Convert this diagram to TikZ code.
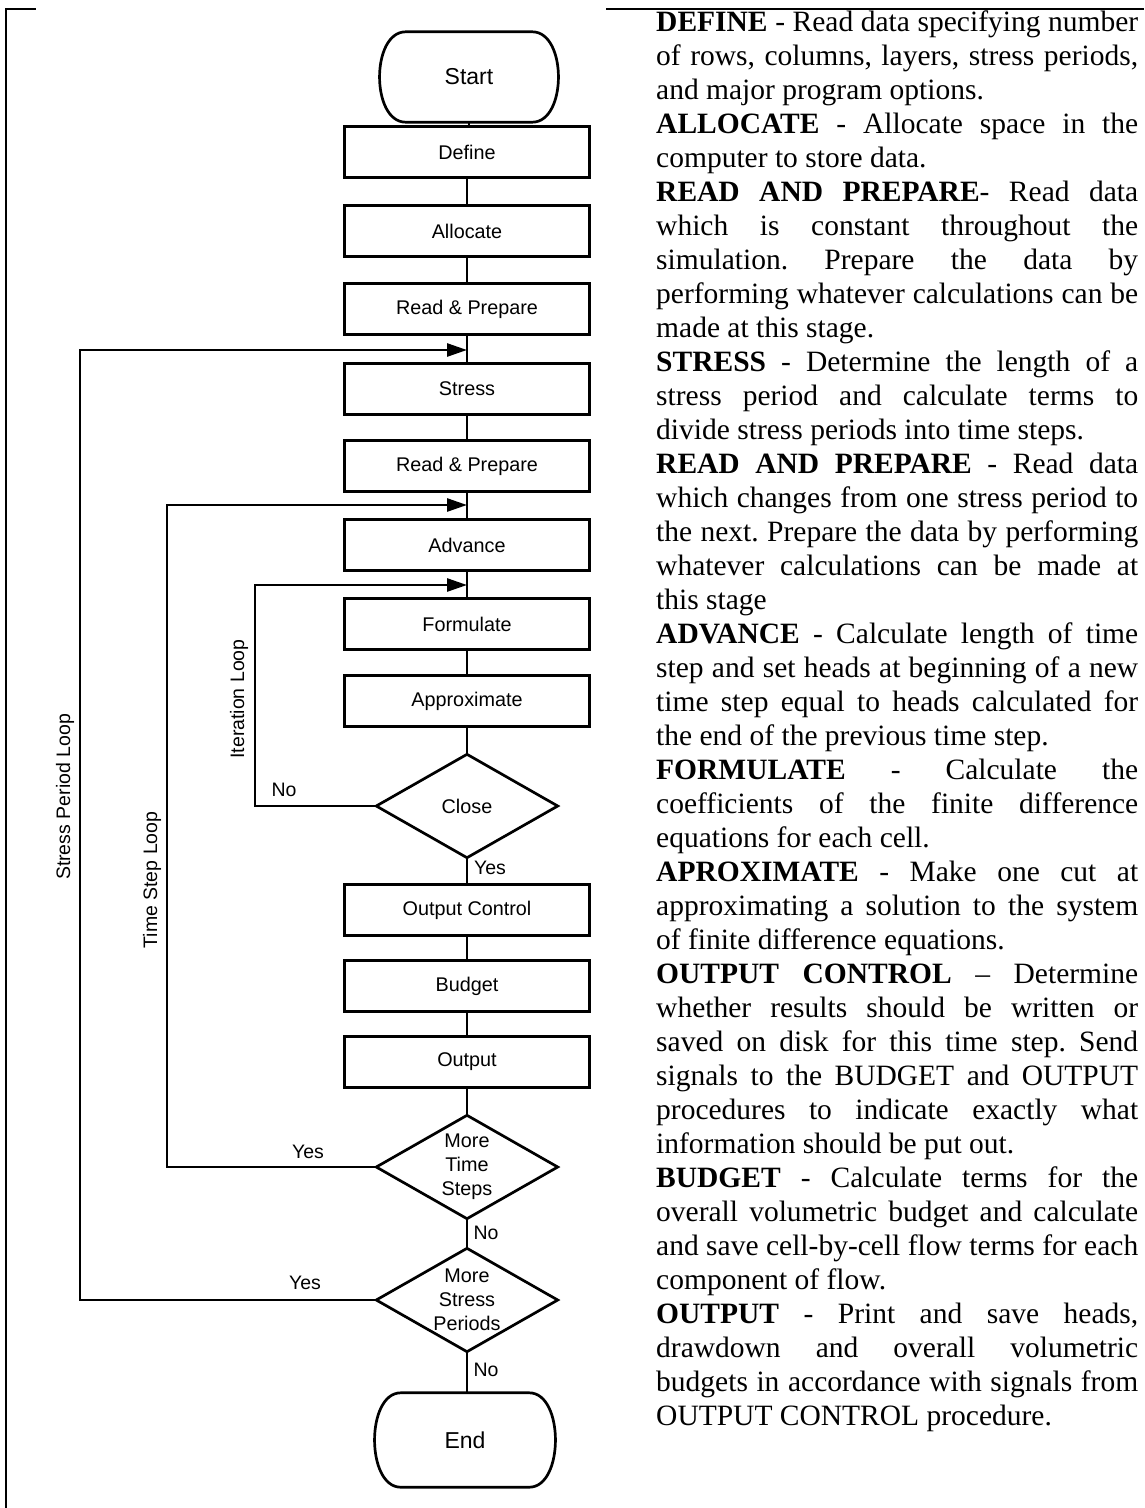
\documentclass[tikz,border=0pt]{standalone}
\usepackage{fontspec}
\setmainfont{Liberation Serif}
\newfontfamily\flowfont{Liberation Sans}
\usetikzlibrary{arrows.meta}
\begin{document}
\begin{tikzpicture}[x=1pt,y=-1pt,
  ln/.style={line width=2.7pt},
  box/.style={draw, line width=2.5pt, minimum width=245pt, minimum height=51pt, inner sep=0pt, font=\flowfont\fontsize{19.8}{22}\selectfont},
  term/.style={minimum width=178pt, minimum height=90pt, inner sep=0pt, font=\flowfont\fontsize{23}{26}\selectfont},
  dia/.style={minimum width=181pt, minimum height=103pt, inner sep=0pt, align=center, font=\flowfont\fontsize{19.8}{24}\selectfont},
  lbl/.style={font=\flowfont\fontsize{19.5}{22}\selectfont, inner sep=0pt},
  looplbl/.style={font=\flowfont\fontsize{19.5}{22}\selectfont, inner sep=0pt, rotate=90},
  tip/.style={-{Triangle[length=20pt,width=13pt]}}
]
\useasboundingbox (0,0) rectangle (1144,1508);
% page border
\draw[line width=2pt] (5.5,1508) -- (5.5,9) -- (36,9);
\draw[line width=2pt] (606,9) -- (1144,9);

% flowchart nodes
\node[term] (start) at (469,77) {Start};
\node[box] (define) at (467,152) {Define};
\node[box] (allocate) at (467,231) {Allocate};
\node[box] (rp1) at (467,309) {Read \& Prepare};
\node[box] (stress) at (467,389) {Stress};
\node[box] (rp2) at (467,466) {Read \& Prepare};
\node[box] (advance) at (467,545) {Advance};
\node[box] (formulate) at (467,624) {Formulate};
\node[box] (approx) at (467,701) {Approximate};
\node[dia] (close) at (467,806) {Close};
\node[box] (outctl) at (467,910) {Output Control};
\node[box] (budget) at (467,986) {Budget};
\node[box] (output) at (467,1062) {Output};
\node[dia] (mts) at (467,1167) {More\\Time\\Steps};
\node[dia] (msp) at (467,1300) {More\\Stress\\Periods};
\node[term, minimum height=94pt, minimum width=180pt] (stop) at (465,1440) {End};

% terminal outlines
\foreach \n in {start,stop}
  \draw[ln] ([xshift=26pt]\n.north west) -- ([xshift=-26pt]\n.north east)
    .. controls ([xshift=9pt]\n.north east) and ([xshift=9pt]\n.south east) .. ([xshift=-26pt]\n.south east)
    -- ([xshift=26pt]\n.south west)
    .. controls ([xshift=-9pt]\n.south west) and ([xshift=-9pt]\n.north west) .. cycle;
% diamond outlines
\foreach \n in {close,mts,msp}
  \draw[ln, line join=miter] (\n.north) -- (\n.east) -- (\n.south) -- (\n.west) -- cycle;

% main flow
\draw[ln] (start.south |- define.north) -- (start.south);
\foreach \a/\b in {define/allocate, allocate/rp1, rp1/stress, stress/rp2, rp2/advance, advance/formulate, formulate/approx, approx/close, close/outctl, outctl/budget, budget/output, output/mts, mts/msp}
  \draw[ln] (\a) -- (\b);
\draw[ln] (msp.south) -- (msp.south |- stop.north);

% loops
\coordinate (sA) at (80,1300); \coordinate (sB) at (80,350); \coordinate (sE) at (467,350);
\coordinate (tA) at (167,1167); \coordinate (tB) at (167,505); \coordinate (tE) at (467,505);
\coordinate (iA) at (255,806); \coordinate (iB) at (255,585); \coordinate (iE) at (467,585);
\draw[ln, tip] (msp.west) -- (sA) -- (sB) -- (sE);
\draw[ln, tip] (mts.west) -- (tA) -- (tB) -- (tE);
\draw[ln, tip] (close.west) -- (iA) -- (iB) -- (iE);

% loop labels
\node[looplbl] (lsp) at (65,797) {Stress Period Loop};
\node[looplbl] (lts) at (152,880) {Time Step Loop};
\node[looplbl] (lit) at (239,699) {Iteration Loop};

% yes / no labels
\node[lbl] (no1) at (284,790) {No};
\node[lbl] (yes1) at (490,868) {Yes};
\node[lbl] (yes2) at (308,1152) {Yes};
\node[lbl] (no2) at (486,1233) {No};
\node[lbl] (yes3) at (305,1283) {Yes};
\node[lbl] (no3) at (486,1370) {No};

% description text
\node[anchor=north west, inner sep=0pt, text width=482pt, align=justify,
      font=\fontsize{29.5}{34}\selectfont] (desc) at (656,9) {%
\tolerance=10000 \hyphenpenalty=10000 \exhyphenpenalty=10000 \parindent=0pt \emergencystretch=0pt \frenchspacing
\rule{0pt}{22pt}\textbf{DEFINE} - Read data specifying number\linebreak of rows, columns, layers, stress periods,\linebreak and major program options.\par
\textbf{ALLOCATE} - Allocate space in the\linebreak computer to store data.\par
\textbf{READ AND PREPARE}- Read data\linebreak which is constant throughout the\linebreak simulation. Prepare the data by\linebreak performing whatever calculations can be\linebreak made at this stage.\par
\textbf{STRESS} - Determine the length of a\linebreak stress period and calculate terms to\linebreak divide stress periods into time steps.\par
\textbf{READ AND PREPARE} - Read data\linebreak which changes from one stress period to\linebreak the next. Prepare the data by performing\linebreak whatever calculations can be made at\linebreak this stage\par
\textbf{ADVANCE} - Calculate length of time\linebreak step and set heads at beginning of a new\linebreak time step equal to heads calculated for\linebreak the end of the previous time step.\par
\textbf{FORMULATE} - Calculate the\linebreak coefficients of the finite difference\linebreak equations for each cell.\par
\textbf{APROXIMATE} - Make one cut at\linebreak approximating a solution to the system\linebreak of finite difference equations.\par
\textbf{OUTPUT CONTROL} – Determine\linebreak whether results should be written or\linebreak saved on disk for this time step. Send\linebreak signals to the BUDGET and OUTPUT\linebreak procedures to indicate exactly what\linebreak information should be put out.\par
\textbf{BUDGET} - Calculate terms for the\linebreak overall volumetric budget and calculate\linebreak and save cell-by-cell flow terms for each\linebreak component of flow.\par
\textbf{OUTPUT} - Print and save heads,\linebreak drawdown and overall volumetric\linebreak budgets in accordance with signals from\linebreak OUTPUT CONTROL procedure.};
\end{tikzpicture}
\end{document}
